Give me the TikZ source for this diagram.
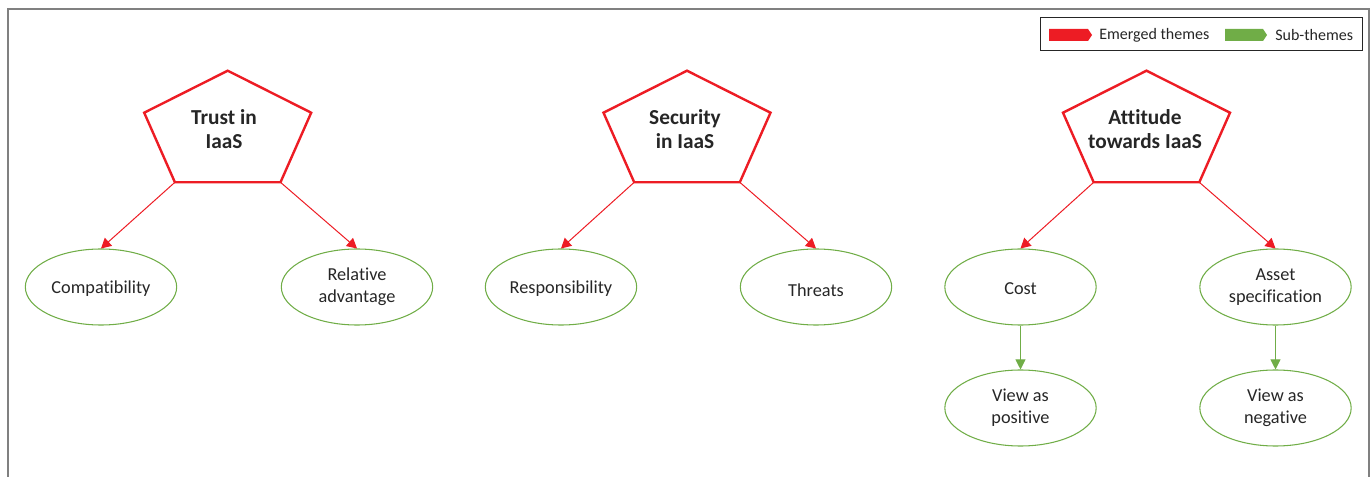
\documentclass[tikz,border=0pt]{standalone}
\usepackage{fontspec}
\setmainfont[Ligatures=NoCommon]{Carlito}
\usetikzlibrary{arrows.meta,shapes.geometric}
\definecolor{themered}{HTML}{ED1C24}
\definecolor{subgreen}{HTML}{70AD47}
\definecolor{txt}{HTML}{262626}
\definecolor{framegray}{HTML}{808080}
\newcommand{\lowr}[2]{\raisebox{-#1}[\height][\depth]{#2}}
\begin{document}
\begin{tikzpicture}[x=0.75pt,y=-0.75pt,
  sub/.style={ellipse,draw=subgreen,line width=0.8pt,minimum width=113.5pt,minimum height=57pt,inner sep=0pt,align=center,text=txt,font=\fontsize{13.7}{16.5}\selectfont},
  theme/.style={align=center,text=txt,font=\bfseries\fontsize{16}{17.5}\selectfont},
  pent/.style={draw=themered,line width=1.8pt,line join=miter},
  redarr/.style={draw=themered,line width=0.75pt,-{Triangle[length=7.5pt,width=8pt]}},
  greenarr/.style={draw=subgreen,line width=0.75pt,-{Triangle[length=7.5pt,width=7.5pt]}},
  legtext/.style={anchor=west,text=txt,font=\fontsize{12}{14}\selectfont,inner sep=0pt}]
\useasboundingbox (0,0) rectangle (1372,477);
% frame
\coordinate (f1) at (8,477);
\coordinate (f2) at (8,9);
\coordinate (f3) at (1369,9);
\coordinate (f4) at (1369,477);
\draw[framegray,line width=1pt] (f1) -- (f2) -- (f3) -- (f4);
% legend
\node (legend) [draw=txt,line width=0.75pt,minimum width=241.2pt,minimum height=25pt,inner sep=0pt] at (1201.5,34.3) {};
\fill[themered] (1049,29) -- (1088,29) -- (1092,35) -- (1088,41) -- (1049,41) -- cycle;
\node (legred) [legtext] at (1099,35) {Emerged themes};
\fill[subgreen] (1225,29) -- (1263,29) -- (1267,35) -- (1263,41) -- (1225,41) -- cycle;
\node (leggreen) [legtext] at (1275,35) {Sub-themes};
% pentagons
\foreach \n/\cx in {A/227.7,B/687,C/1146.5}{
  \coordinate (\n t) at (\cx,70.7);
  \coordinate (\n r) at (\cx+83.5,112.7);
  \coordinate (\n br) at (\cx+52.8,182.3);
  \coordinate (\n bl) at (\cx-52.8,182.3);
  \coordinate (\n l) at (\cx-83.5,112.7);
  \draw[pent] (\n t) -- (\n r) -- (\n br) -- (\n bl) -- (\n l) -- cycle;
}
\node (trust) [theme] at (224,129) {Trust in\\IaaS};
\node (security) [theme] at (685,129) {Security\\in IaaS};
\node (attitude) [theme] at (1145,129) {Attitude\\towards IaaS};
% sub-themes
\node (comp) [sub] at (101,287) {\lowr{1.5pt}{Compatibility}};
\node (rel) [sub] at (357,287) {Relative\\advantage};
\node (resp) [sub] at (561,287) {\lowr{1.5pt}{Responsibility}};
\node (threats) [sub] at (816,287) {\lowr{2.5pt}{Threats}};
\node (cost) [sub] at (1020.5,287) {\lowr{1pt}{Cost}};
\node (asset) [sub] at (1275.5,287) {Asset\\specification};
\node (pos) [sub] at (1020.5,408) {View as\\positive};
\node (neg) [sub] at (1275.5,408) {View as\\negative};
% connectors
\draw[redarr] (Abl) -- (comp.north);
\draw[redarr] (Abr) -- (rel.north);
\draw[redarr] (Bbl) -- (resp.north);
\draw[redarr] (Bbr) -- (threats.north);
\draw[redarr] (Cbl) -- (cost.north);
\draw[redarr] (Cbr) -- (asset.north);
\draw[greenarr] (cost.south) -- (pos.north);
\draw[greenarr] (asset.south) -- (neg.north);
\end{tikzpicture}
\end{document}
